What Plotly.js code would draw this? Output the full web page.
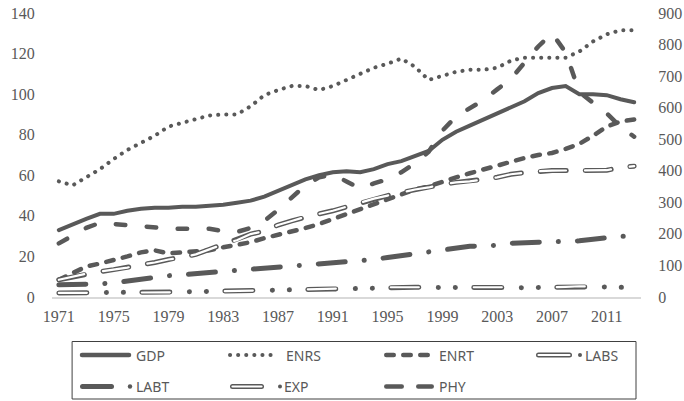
<!DOCTYPE html>
<html><head><meta charset="utf-8">
<script src="https://cdn.plot.ly/plotly-3.0.1.min.js"></script>
<style>
html,body{margin:0;padding:0;background:#fff;}
#chart{width:684px;height:401px;}
.scatterlayer path.js-line, .shapelayer path { stroke-linecap: round; }
</style></head><body><div id="chart"></div>
<script>
const years = [1971,1972,1973,1974,1975,1976,1977,1978,1979,1980,1981,1982,1983,1984,1985,1986,1987,1988,1989,1990,1991,1992,1993,1994,1995,1996,1997,1998,1999,2000,2001,2002,2003,2004,2005,2006,2007,2008,2009,2010,2011,2012,2013];
const xTicks = [1971,1975,1979,1983,1987,1991,1995,1999,2003,2007,2011];
const GDP  = [33,36,38.5,41,41,42.5,43.5,44,44,44.5,44.5,45,45.5,46.5,47.5,49.5,52.5,55.5,58,60,61.5,62,61.5,63,65.5,67,69.5,72,77.5,81.5,84.5,87.5,90,93,96.5,100.5,103,104,100,100,99.5,97.5,96];
const ENRS = [57,55,59,63,68,72.5,76,79.5,84,86,87.5,89.5,90,90,94,99.5,102,104,104,102,104,107,110.5,113,115,117.5,113.5,107,109,111,112,112,113,116.5,118,118,118,118,121,126,129.5,131.5,131.5];
const ENRT = [8.5,12,15,16.5,18,20,22,23,21.5,22,22.5,23,24.5,25.5,27,29,30.5,32,34,36,38.5,41,43.5,46,48.5,51,53,54.5,57,59,61,63,64.5,66.5,68.5,70,71,73,75.5,79.5,84,86.5,87.5];
const LABS = [8.5,10,11.5,12.5,13.5,14.5,16,17,18.5,19.5,21,23.5,26,28,31,32.5,35.5,37.5,39.5,41,42.5,44.5,46.5,48.5,50,51.5,53,54,55.5,56.5,57,58,59,60.5,61.3,62,62.3,62.3,62.3,62.3,62.5,63.8,64.5];
const LABT = [6,6,6,6.5,7,8,9,10,10.5,11,11.5,12,12.5,13,13.5,14,14.5,15,15.5,16,16.5,17,17.5,18.5,19.5,20.5,21.5,22.3,23,24,25,25.2,25.5,26.5,27,27,27.2,27.2,27.7,28.5,29.5,30,30];
const EXP  = [2,2,2,2,2,2.2,2.3,2.3,2.3,2.4,2.6,2.8,3,3.1,3.1,3.3,3.4,3.6,3.8,3.8,3.9,4.1,4.3,4.6,4.8,4.8,4.8,4.7,4.6,4.6,4.6,4.6,4.6,4.6,4.6,4.7,4.8,5,5.3,5.1,5,4.8,4.8];
const PHY  = [170,193,219,235,231,230,226,222,217,216,216,216,209,206,219,241,276,315,354,379,389,366,344,360,373,395,424,460,527,572,598,624,658,691,743,794,836,775,649,617,582,540,508];
const legendNames = ['GDP','ENRS','ENRT','LABS','LABT','EXP','PHY'];

const GREY = '#595959';
function mkTrace(y, width, dash, color, axis){
  return {x: years, y: y, type:'scatter', mode:'lines', hoverinfo:'skip', showlegend:false,
    yaxis: axis || 'y', line:{color: color || GREY, width: width, dash: dash || 'solid'}};
}
const traces = [
  mkTrace(GDP, 4),
  mkTrace(ENRS, 4, '0.1px,8px'),
  mkTrace(ENRT, 4.5, '7.5px,9.5px'),
  mkTrace(LABS, 5, '26px,19px'),
  mkTrace(LABS, 2.2, '26px,19px', '#ffffff'),
  mkTrace(LABT, 5, '27px,19px,0.1px,19px'),
  mkTrace(EXP, 5, '28px,19.5px,0.1px,16.9px,0.1px,18.4px'),
  mkTrace(EXP, 2.2, '28px,55px', '#ffffff'),
  mkTrace(PHY, 4.5, '9.5px,21.5px', GREY, 'y2')
];

const ML = 52, MR = 43, MT = 13, MB = 104;
const PW = 684 - ML - MR, PH = 401 - MT - MB;
const toPX = x => (x - ML) / PW;
const toPY = y => (401 - MB - y) / PH;
const shapeList = [], annList = [];
function legSeg(x0, x1, y, w, dash, color){
  shapeList.push({type:'line', xref:'paper', yref:'paper', x0:toPX(x0), x1:toPX(x1), y0:toPY(y), y1:toPY(y),
    line:{color: color || GREY, width: w, dash: dash || 'solid'}});
}
function legDot(x, y, r){
  shapeList.push({type:'circle', xref:'paper', yref:'paper', x0:toPX(x-r), x1:toPX(x+r), y0:toPY(y+r), y1:toPY(y-r),
    fillcolor:GREY, line:{width:0}});
}
function legText(x, y, t){
  annList.push({xref:'paper', yref:'paper', x:toPX(x), y:toPY(y), text:t, showarrow:false,
    xanchor:'left', yanchor:'middle', font:{family:'Noto Sans', size:14, color:GREY}});
}
shapeList.push({type:'rect', xref:'paper', yref:'paper', x0:toPX(72.5), x1:toPX(636), y0:toPY(341.5), y1:toPY(399),
  line:{color:'#404040', width:1}, fillcolor:'rgba(0,0,0,0)'});
const r1 = 355, r2 = 386.5;
legSeg(82, 129, r1, 4.5); legText(134, r1, legendNames[0]);
legSeg(230, 278, r1, 4, '0.1px,8px'); legText(284, r1, legendNames[1]);
legSeg(386.25, 427.75, r1, 4.5, '7.5px,9.5px'); legText(437, r1, legendNames[2]);
legSeg(538.5, 569.5, r1, 5); legSeg(538.5, 569.5, r1, 2.2, 'solid', '#ffffff'); legDot(580, r1, 2); legText(583, r1, legendNames[3]);
legSeg(82.5, 111.5, r2, 5); legDot(130, r2, 2.2); legText(134, r2, legendNames[4]);
legSeg(232.5, 261.5, r2, 5); legSeg(232.5, 261.5, r2, 2.2, 'solid', '#ffffff'); legDot(280, r2, 2); legText(282, r2, legendNames[5]);
legSeg(386.25, 401.75, r2, 4.5); legSeg(418.25, 431.75, r2, 4.5); legText(437, r2, legendNames[6]);

const layout = {
  width:684, height:401, margin:{l:ML, r:MR, t:MT, b:MB}, showlegend:false,
  xaxis:{range:[1970.5,2013.5], tickvals:xTicks, ticktext:xTicks.map(String), showgrid:false, zeroline:false,
    showline:true, linecolor:'#d9d9d9', linewidth:1.5, ticks:'outside', ticklen:4, tickcolor:'#ffffff',
    tickfont:{family:'Liberation Serif', size:16, color:GREY}},
  yaxis:{range:[0,140], dtick:20, showgrid:false, zeroline:false, showline:false, ticks:'outside', ticklen:13,
    tickcolor:'#ffffff', tickfont:{family:'Liberation Serif', size:16, color:GREY}},
  yaxis2:{range:[0,900], dtick:100, overlaying:'y', side:'right', showgrid:false, zeroline:false, showline:false,
    ticks:'outside', ticklen:13, tickcolor:'#ffffff', tickfont:{family:'Liberation Serif', size:16, color:GREY}},
  shapes:shapeList, annotations:annList
};
Plotly.newPlot('chart', traces, layout, {staticPlot:true, displayModeBar:false});
</script></body></html>
